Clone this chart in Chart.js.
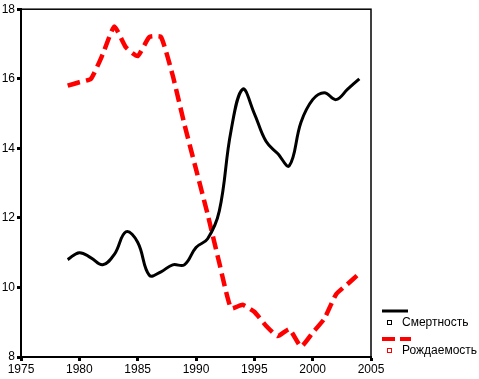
<!DOCTYPE html>
<html>
<head>
<meta charset="utf-8">
<script src="https://cdn.jsdelivr.net/npm/chart.js@4"></script>
<style>
  body { margin: 0; background: #fff; }
  #wrap { width: 479px; height: 379px; }
</style>
</head>
<body>
<div id="wrap"><canvas id="myChart" width="479" height="379"></canvas></div>
<script>
const years = [1979, 1980, 1981, 1982, 1983, 1984, 1985, 1986, 1987, 1988, 1989, 1990, 1991,
    1992, 1993, 1994, 1995, 1996, 1997, 1998, 1999, 2000, 2001, 2002, 2003, 2004];
const mortality = [10.8, 11.0, 10.85, 10.65, 10.95, 11.6, 11.3, 10.35, 10.45, 10.65, 10.65, 11.15, 11.4,
    12.2, 14.5, 15.7, 15.0, 14.2, 13.85, 13.5, 14.75, 15.4, 15.6, 15.4, 15.7, 16.0];
const births = [15.8, 15.9, 16.0, 16.7, 17.5, 16.9, 16.65, 17.2, 17.2, 16.1, 14.7, 13.4, 12.1,
    10.7, 9.4, 9.5, 9.3, 8.9, 8.6, 8.8, 8.3, 8.7, 9.1, 9.8, 10.1, 10.4];
const seriesNames = ['Смертность', 'Рождаемость'];
const xTicks = [1975, 1980, 1985, 1990, 1995, 2000, 2005];
const yTicks = [8, 10, 12, 14, 16, 18];

const font = { family: 'Arial, "Liberation Sans"', size: 12 };

// рамка и легенда
const boxAndLegend = {
    id: 'boxAndLegend',
    afterDraw(chart) {
        const ctx = chart.ctx;
        const a = chart.chartArea;
        ctx.save();
        ctx.strokeStyle = '#000';
        ctx.lineWidth = 1.5;
        ctx.strokeRect(a.left, a.top, a.right - a.left, a.bottom - a.top);

        const lx = 382, lw = 26;
        ctx.font = '12px Arial, "Liberation Sans"';
        ctx.textBaseline = 'middle';
        ctx.fillStyle = '#000';

        // Смертность
        ctx.lineWidth = 3;
        ctx.strokeStyle = '#000';
        ctx.beginPath(); ctx.moveTo(lx, 311); ctx.lineTo(lx + lw, 311); ctx.stroke();
        ctx.lineWidth = 1;
        ctx.strokeRect(387.5, 320.5, 4, 4);
        ctx.fillText(seriesNames[0], 402, 323);

        // Рождаемость
        ctx.lineWidth = 4;
        ctx.strokeStyle = '#f00';
        ctx.setLineDash([13, 5]);
        ctx.beginPath(); ctx.moveTo(lx, 339); ctx.lineTo(lx + lw + 3, 339); ctx.stroke();
        ctx.setLineDash([]);
        ctx.lineWidth = 1;
        ctx.strokeRect(387.5, 348.5, 4, 4);
        ctx.fillText(seriesNames[1], 402, 351);
        ctx.restore();
    }
};

const config = {
    type: 'line',
    data: {
        datasets: [{
            label: seriesNames[0],
            data: years.map((y, i) => ({ x: y, y: mortality[i] })),
            borderColor: '#000',
            borderWidth: 3,
            pointRadius: 0,
            tension: 0.4,
            fill: false
        }, {
            label: seriesNames[1],
            data: years.map((y, i) => ({ x: y, y: births[i] })),
            borderColor: '#f00',
            borderWidth: 4.5,
            borderDash: [13, 6],
            pointRadius: 0,
            tension: 0.15,
            fill: false
        }]
    },
    options: {
        responsive: false,
        animation: false,
        layout: { padding: { top: 8, right: 108, left: 0, bottom: 0 } },
        plugins: {
            legend: { display: false },
            tooltip: { enabled: false }
        },
        scales: {
            x: {
                type: 'linear',
                min: xTicks[0],
                max: xTicks[xTicks.length - 1],
                afterBuildTicks: (s) => { s.ticks = xTicks.map(v => ({ value: v })); },
                afterFit: (s) => { s.height = 22; },
                border: { color: '#000', width: 2 },
                grid: { drawOnChartArea: false, tickLength: 4, tickWidth: 3, tickColor: '#000' },
                ticks: { color: '#000', font: font, padding: 1, maxRotation: 0, callback: v => String(v) }
            },
            y: {
                min: yTicks[0],
                max: yTicks[yTicks.length - 1],
                afterBuildTicks: (s) => { s.ticks = yTicks.map(v => ({ value: v })); },
                afterFit: (s) => { s.width = 21; },
                border: { color: '#000', width: 2 },
                grid: { drawOnChartArea: false, tickLength: 4, tickWidth: 3, tickColor: '#000' },
                ticks: { color: '#000', font: font, padding: 2 }
            }
        }
    },
    plugins: [boxAndLegend]
};

const myChart = new Chart(document.getElementById('myChart'), config);
</script>
</body>
</html>
